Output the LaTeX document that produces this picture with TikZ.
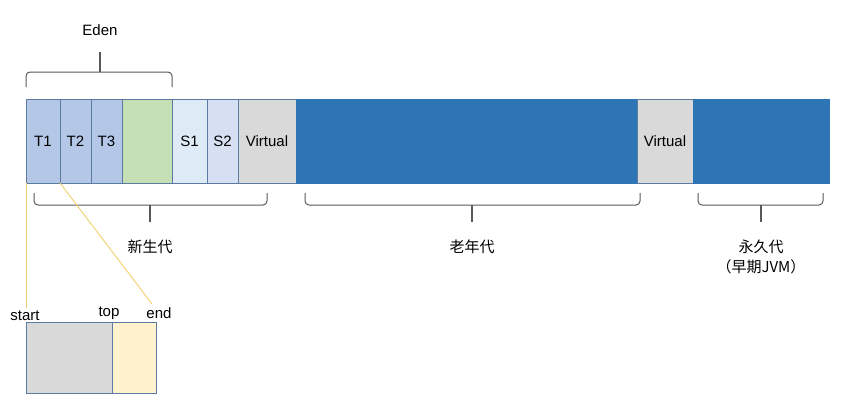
\documentclass[tikz,border=0pt]{standalone}
\usepackage{fontspec}
\setmainfont{Liberation Sans}
\newfontfamily\cjk{Noto Sans CJK SC}
\usetikzlibrary{positioning}
\definecolor{tlabfill}{HTML}{B4C7E7}
\definecolor{edenfree}{HTML}{C5E0B4}
\definecolor{sonefill}{HTML}{DEEBF7}
\definecolor{stwofill}{HTML}{D6E0F2}
\definecolor{virtfill}{HTML}{D9D9D9}
\definecolor{heapblue}{HTML}{2E75B6}
\definecolor{cellline}{HTML}{5B7BA3}
\definecolor{usedfill}{HTML}{D9D9D9}
\definecolor{freefill}{HTML}{FFF2CC}
\definecolor{ptryellow}{HTML}{F2D06B}
\definecolor{bracketgray}{HTML}{595959}
\begin{document}
\begin{tikzpicture}
[
    x=1pt, y=-1pt,
    font=\fontsize{15}{17}\selectfont,
    cell/.style={draw=cellline, line width=0.8pt, minimum height=84pt,
        text height=11pt, text depth=0pt,
        inner sep=0pt, outer sep=0pt, anchor=west},
    bufcell/.style={draw=cellline, line width=0.8pt, minimum height=71pt,
        inner sep=0pt, outer sep=0pt, anchor=west},
    bracket/.style={draw=bracketgray, line width=1pt, rounded corners=4pt},
    tip/.style={draw=bracketgray, line width=1.3pt},
    pointer/.style={draw=ptryellow, line width=0.9pt},
    caption/.style={font=\cjk\fontsize{15}{20}\selectfont, align=center},
]
\useasboundingbox (0,0) rectangle (854,408);
% heap bar
\node[cell, fill=tlabfill, minimum width=34pt] (t1) at (26,141) {T1};
\node[cell, fill=tlabfill, minimum width=31pt, right=0pt of t1] (t2) {T2};
\node[cell, fill=tlabfill, minimum width=31pt, right=0pt of t2] (t3) {T3};
\node[cell, fill=edenfree, minimum width=50pt, right=0pt of t3] (eden) {};
\node[cell, fill=sonefill, minimum width=35pt, right=0pt of eden] (s1) {S1};
\node[cell, fill=stwofill, minimum width=31pt, right=0pt of s1] (s2) {S2};
\node[cell, fill=virtfill, minimum width=58pt, right=0pt of s2] (virtyoung) {Virtual};
\node[cell, draw=heapblue, fill=heapblue, minimum width=341pt, right=0pt of virtyoung] (old) {};
\node[cell, fill=virtfill, minimum width=56pt, right=0pt of old] (virtold) {Virtual};
\node[cell, draw=heapblue, fill=heapblue, minimum width=136pt, right=0pt of virtold] (perm) {};
% Eden
\draw[bracket] ([yshift=12pt]t1.north west) |- ([yshift=27pt]eden.north east)
    -- ([yshift=12pt]eden.north east);
\coordinate (edentip) at (100,52);
\draw[tip] (100,72) -- (edentip);
\node (edenlabel) at (100,30) {Eden};
% young
\draw[bracket] (34,193) |- (267,205) -- (267,193);
\draw[tip] (150,205) -- (150,222);
\node[caption] (young) at (150,247) {新生代};
% old
\draw[bracket] (305,193) |- (640,205) -- (640,193);
\draw[tip] (472,205) -- (472,222);
\node[caption] (tenured) at (472,247) {老年代};
% perm
\draw[bracket] (698,193) |- (823,205) -- (823,193);
\draw[tip] (761,205) -- (761,222);
\node[caption] (permgen) at (761,257) {永久代\\（早期JVM）};
% TLAB
\node[bufcell, fill=usedfill, minimum width=86pt] (used) at (26.7,358) {};
\node[bufcell, fill=freefill, minimum width=44pt, right=0pt of used] (free) {};
\node (start) at (25,316) {start};
\node (top) at (109,313) {top};
\node (end) at (159,313) {end};
\draw[pointer] (t1.south west) -- (t1.south west |- start.north);
\draw[pointer] (t2.south west) -- ([xshift=-7pt]end.north);
\end{tikzpicture}
\end{document}
